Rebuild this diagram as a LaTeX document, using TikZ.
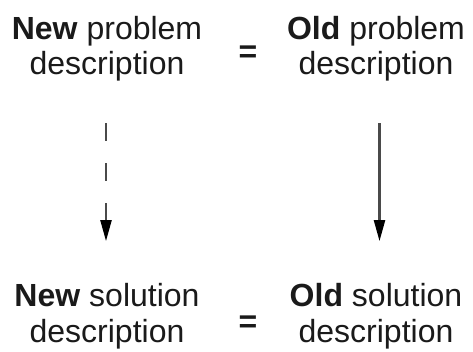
\documentclass[tikz,border=0pt]{standalone}
\usepackage{fontspec}
\setmainfont{Liberation Sans}
\usetikzlibrary{arrows.meta}
\definecolor{txt}{HTML}{1A1A1A}
\definecolor{arr}{HTML}{4A4A4A}
\tikzset{
  desc/.style={align=center, inner sep=0pt, text=txt, font=\fontsize{32}{35.5}\selectfont},
  eqsign/.style={inner sep=0pt, text=txt, font=\fontsize{32}{35.5}\selectfont\bfseries},
  conn/.style={draw=arr, line width=2.2pt, shorten <=42pt, shorten >=42pt,
    -{Triangle[length=21pt,width=11pt,fill=black,color=black]}},
  dashedconn/.style={conn, dash pattern=on 18pt off 22pt}
}
\begin{document}
\begin{tikzpicture}[x=1pt,y=1pt]
\useasboundingbox (0,0) rectangle (473,351);
\node[desc] (np) at (107,302.5) {\textbf{New} problem\\description};
\node[desc] (op) at (376,302.5) {\textbf{Old} problem\\description};
\node[desc] (ns) at (107,35) {\textbf{New} solution\\description};
\node[desc] (os) at (376,35) {\textbf{Old} solution\\description};
\node[eqsign] (eqt) at (248,297) {=};
\node[eqsign] (eqb) at (248,27) {=};
\draw[dashedconn] ([xshift=-1pt]np.south) -- ([xshift=-1pt]np.south |- ns.north);
\draw[conn] ([xshift=3.5pt]op.south) -- ([xshift=3.5pt]op.south |- os.north);
\end{tikzpicture}
\end{document}
